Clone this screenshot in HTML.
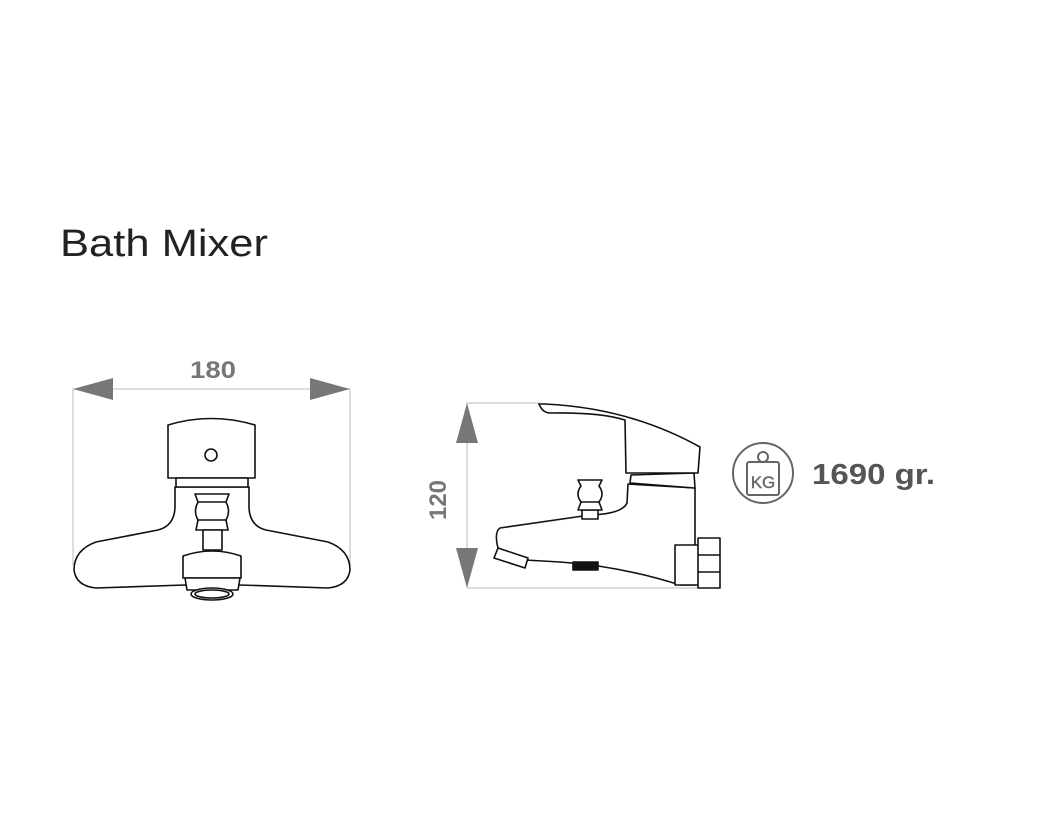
<!DOCTYPE html>
<html><head><meta charset="utf-8"><style>
html,body{margin:0;padding:0;background:#fff;}
svg{display:block;}
</style></head><body>
<svg width="1063" height="827" viewBox="0 0 1063 827" xmlns="http://www.w3.org/2000/svg">
<text x="60" y="256" font-family="Liberation Sans, sans-serif" font-size="38" fill="#222" textLength="208" lengthAdjust="spacingAndGlyphs">Bath Mixer</text>

<!-- front view dimension -->
<g stroke="#bbb" stroke-width="1" fill="none">
<line x1="73" y1="389" x2="350" y2="389"/>
<line x1="73" y1="389" x2="73" y2="565"/>
<line x1="350" y1="389" x2="350" y2="565"/>
</g>
<polygon points="73,389 113,378 113,400" fill="#777"/>
<polygon points="350,389 310,378 310,400" fill="#777"/>
<text x="190" y="378" font-family="Liberation Sans, sans-serif" font-weight="bold" font-size="24" fill="#777" textLength="46" lengthAdjust="spacingAndGlyphs">180</text>

<g stroke="#111" stroke-width="1.6" fill="#fff" stroke-linejoin="round">
<path d="M175,487 L175,508 Q174,526 158,530 L96,542 Q74,550 74,570 Q76,586 96,588 L185,585 L240,585 L328,588 Q348,586 350,570 Q350,550 328,542 L266,530 Q250,526 249,508 L249,487 Z"/>
<path d="M168,425 Q211,412 255,425 L255,478 L168,478 Z"/>
<circle cx="211" cy="455" r="6"/>
<rect x="176" y="478" width="72" height="9"/>
<path d="M195,494 L229,494 L226,502 Q231,511 226,520 L228,530 L196,530 L198,520 Q193,511 198,502 Z"/>
<line x1="197" y1="520" x2="227" y2="520"/><line x1="198" y1="502" x2="226" y2="502"/>
<rect x="203" y="530" width="19" height="20"/>
<path d="M183,556 Q212,546 241,556 L241,578 L183,578 Z"/>
<path d="M185,578 L240,578 L238,590 L187,590 Z"/>
<ellipse cx="212" cy="594" rx="21" ry="6"/>
<ellipse cx="212" cy="594" rx="17" ry="4"/>
</g>

<!-- side view dimension -->
<g stroke="#bbb" stroke-width="1" fill="none">
<line x1="467" y1="403" x2="540" y2="403"/>
<line x1="467" y1="403" x2="467" y2="588"/>
<line x1="467" y1="588" x2="720" y2="588"/>
</g>
<polygon points="467,403 456,443 478,443" fill="#777"/>
<polygon points="467,588 456,548 478,548" fill="#777"/>
<text transform="translate(446,500) rotate(-90)" text-anchor="middle" font-family="Liberation Sans, sans-serif" font-weight="bold" font-size="24" fill="#777">120</text>

<g stroke="#111" stroke-width="1.6" fill="#fff" stroke-linejoin="round">
<path d="M628,484 L695,488 L695,585 L680,585 Q620,566 560,562 L525,560 L498,548 Q494,532 500,528 L590,515 Q622,514 627,503 Z"/>
<polygon points="498,548 528,558 525,568 494,558"/>
<rect x="573" y="562" width="25" height="8" fill="#111"/>
<path d="M631,475 L694,473 L695,488 L630,483 Z"/>
<path d="M539,404 L545,404 Q630,408 700,447 L698,473 L626,473 L625,420 Q600,412 549,413 Q542,412 539,404 Z"/>
<rect x="675" y="545" width="25" height="40"/>
<rect x="698" y="538" width="22" height="50"/>
<line x1="698" y1="555" x2="720" y2="555"/><line x1="698" y1="572" x2="720" y2="572"/>
<rect x="582" y="510" width="16" height="9"/>
<path d="M578,480 L602,480 L599,486 Q605,494 599,502 L602,510 L578,510 L581,502 Q575,494 581,486 Z"/>
<line x1="580" y1="502" x2="600" y2="502"/>
</g>

<!-- weight -->
<g stroke="#666" stroke-width="2" fill="none">
<circle cx="763" cy="473" r="30"/>
<circle cx="763" cy="457" r="5"/>
<rect x="747" y="462" width="32" height="33" rx="2"/>
</g>
<text x="763" y="488" text-anchor="middle" font-family="Liberation Sans, sans-serif" font-size="17" fill="#666" stroke="#666" stroke-width="0.4">KG</text>
<text x="812" y="484" font-family="Liberation Sans, sans-serif" font-weight="bold" font-size="29" fill="#555" textLength="123" lengthAdjust="spacingAndGlyphs">1690 gr.</text>
</svg>
</body></html>
